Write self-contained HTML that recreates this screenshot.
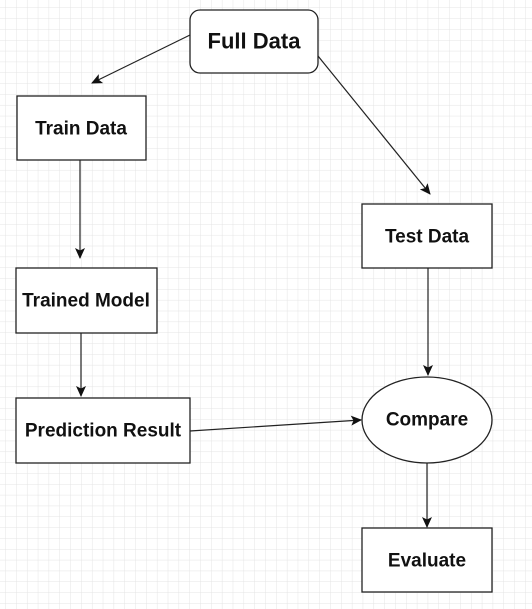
<!DOCTYPE html>
<html><head><style>
html,body{margin:0;padding:0;background:#fff;}
svg{display:block;}
text{font-family:"Liberation Sans",Arial,sans-serif;font-weight:bold;font-size:19px;fill:#111;text-anchor:middle;dominant-baseline:central;}
</style></head><body>
<svg width="532" height="609" xmlns="http://www.w3.org/2000/svg">
<defs>
<pattern id="g" x="5.8" y="8" width="10.83" height="10.83" patternUnits="userSpaceOnUse">
<path d="M10.83 0V10.83M0 10.83H10.83" fill="none" stroke="#e4e4e4" stroke-width="1"/>
</pattern>
<marker id="a" markerWidth="12" markerHeight="12" refX="10" refY="5" orient="auto" markerUnits="userSpaceOnUse">
<path d="M0,0 L11,5 L0,10 L2.5,5 z" fill="#111"/>
</marker>
</defs>
<rect width="532" height="609" fill="url(#g)"/>
<g fill="#fff" stroke="#222" stroke-width="1.3">
<rect x="190" y="10" width="128" height="63" rx="10"/>
<rect x="17" y="96" width="129" height="64"/>
<rect x="16" y="268" width="141" height="65"/>
<rect x="16" y="398" width="174" height="65"/>
<rect x="362" y="204" width="130" height="64"/>
<ellipse cx="427" cy="420" rx="65" ry="43"/>
<rect x="362" y="528" width="130" height="64"/>
</g>
<g stroke="#222" stroke-width="1.2" fill="none" marker-end="url(#a)">
<line x1="190" y1="35" x2="92" y2="83"/>
<line x1="318" y1="56" x2="430" y2="194"/>
<line x1="80" y1="160" x2="80" y2="258"/>
<line x1="81" y1="333" x2="81" y2="396"/>
<line x1="190" y1="431" x2="361" y2="420"/>
<line x1="428" y1="268" x2="428" y2="375"/>
<line x1="427" y1="463" x2="427" y2="527"/>
</g>
<text x="254" y="41" style="font-size:22px">Full Data</text>
<text x="81" y="129">Train Data</text>
<text x="86" y="301">Trained Model</text>
<text x="103" y="431">Prediction Result</text>
<text x="427" y="237">Test Data</text>
<text x="427" y="420">Compare</text>
<text x="427" y="561">Evaluate</text>
</svg>
</body></html>
